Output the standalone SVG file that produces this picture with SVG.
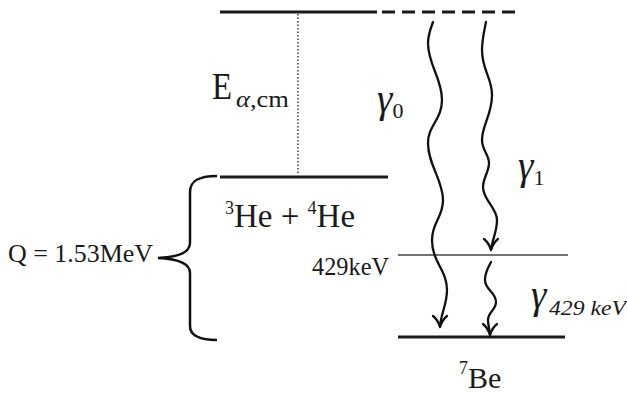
<svg xmlns="http://www.w3.org/2000/svg" width="627" height="394" viewBox="0 0 627 394">
<style>
.t{font-family:"Liberation Serif","Times New Roman",serif;fill:#1a1a1a}
.i{font-style:italic}
.lvl{stroke:#1a1a1a;stroke-width:3;fill:none}
.wave{stroke:#111;stroke-width:2.3;fill:none;stroke-linecap:round}
.head{stroke:#111;stroke-width:2.3;fill:none;stroke-linecap:round;stroke-linejoin:round}
</style>
<rect width="627" height="394" fill="#fff"/>
<g id="levels">
<g id="level-top"><line class="lvl" x1="220" y1="12" x2="377" y2="12"/><line class="lvl" x1="382" y1="12" x2="522" y2="12" stroke-dasharray="13 7"/></g>
<g id="level-he"><line class="lvl" x1="220" y1="177" x2="388" y2="177"/>
<text class="t" x="225" y="227" font-size="33"><tspan font-size="18" dy="-13">3</tspan><tspan dy="13">He + </tspan><tspan font-size="18" dy="-13">4</tspan><tspan dy="13">He</tspan></text></g>
<g id="level-429"><line x1="398" y1="255" x2="568" y2="255" stroke="#444" stroke-width="1.6"/>
<text class="t" x="312" y="275" font-size="25" textLength="77" lengthAdjust="spacingAndGlyphs">429keV</text></g>
<g id="level-be"><line class="lvl" x1="398" y1="337" x2="565" y2="337"/>
<text class="t" x="459" y="388"><tspan font-size="18" dy="-14">7</tspan><tspan font-size="30" dy="14">Be</tspan></text></g>
</g>
<g id="energy">
<line x1="298" y1="14" x2="298" y2="175" stroke="#222" stroke-width="1.3" stroke-dasharray="1.5 2"/>
<text class="t" x="212" y="99" font-size="37" textLength="20" lengthAdjust="spacingAndGlyphs">E</text>
<text class="t" x="236" y="107" font-size="24" textLength="53" lengthAdjust="spacingAndGlyphs"><tspan class="i">α</tspan>,cm</text>
</g>
<g id="qvalue">
<path d="M217,176 C200,176 190,180 190,192 L190,243 C190,252 180,257 158,258 C180,259 190,264 190,273 L190,326 C190,336 200,340 217,340" stroke="#111" stroke-width="2.5" fill="none"/>
<text class="t" x="8" y="262" font-size="25" textLength="145" lengthAdjust="spacingAndGlyphs">Q = 1.53MeV</text>
</g>
<g id="connectors">
<path class="wave" d="M433,22 C430,30 428,36 428,43 C428,65 442,78 442,100 C442,120 428,125 428,143 C428,165 443,180 443,200 C443,218 432,222 432,240 C432,262 447,270 447,290 C447,305 441,312 440,327"/>
<path class="head" d="M433,316 Q438,320 440,327 Q442,320 447,316"/>
<path class="wave" d="M486,22 C484,32 482,40 482,50 C482,70 492,78 492,95 C492,115 482,125 482,140 C482,150 489,155 489,163 C489,172 483,178 483,187 C483,200 497,208 497,220 C497,232 492,240 491,250"/>
<path class="head" d="M484,239 Q489,243 491,250 Q493,243 498,239"/>
<path class="wave" d="M491,262 C488,268 485,272 485,280 C485,290 496,292 496,302 C496,310 488,312 488,320 C488,326 490,330 490,335"/>
<path class="head" d="M483,324 Q488,328 490,335 Q492,328 497,324"/>
</g>
<g id="labels">
<text class="t" x="377" y="112" font-size="39"><tspan class="i">γ</tspan><tspan font-size="22" dy="6">0</tspan></text>
<text class="t" x="518" y="179" font-size="39"><tspan class="i">γ</tspan><tspan font-size="22" dy="6">1</tspan></text>
<text class="t" x="531" y="308" font-size="39"><tspan class="i">γ</tspan></text>
<text class="t i" x="549" y="315" font-size="21" textLength="77" lengthAdjust="spacingAndGlyphs">429 keV</text>
</g>
</svg>
